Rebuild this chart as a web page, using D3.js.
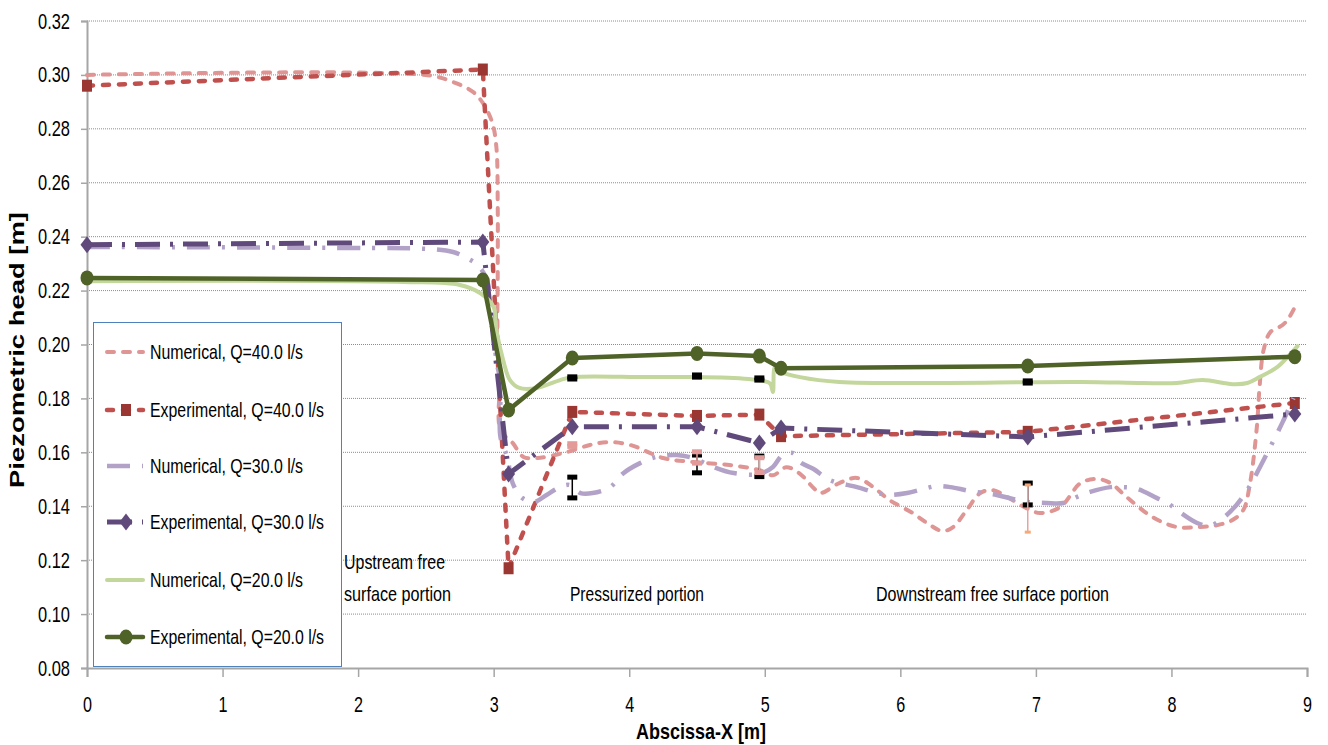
<!DOCTYPE html>
<html><head><meta charset="utf-8">
<script src="https://cdn.jsdelivr.net/npm/d3@7"></script>
<style>body{margin:0;background:#fff} svg{display:block}</style>
</head><body><svg id="c" width="1328" height="745"></svg>
<script>
// ---------------- DATA ----------------
const xTicks = [0, 1, 2, 3, 4, 5, 6, 7, 8, 9];
const yTicks = [0.08, 0.10, 0.12, 0.14, 0.16, 0.18, 0.20, 0.22, 0.24, 0.26, 0.28, 0.30, 0.32];
const seriesNames = ["Numerical, Q=40.0 l/s", "Experimental, Q=40.0 l/s", "Numerical, Q=30.0 l/s",
  "Experimental, Q=30.0 l/s", "Numerical, Q=20.0 l/s", "Experimental, Q=20.0 l/s"];
const xTitle = "Abscissa-X [m]";
const yTitle = "Piezometric head [m]";
const regionLabels = ["Upstream free", "surface portion", "Pressurized portion", "Downstream free surface portion"];

// experimental stations
const expX  = [0, 2.92, 3.11, 3.58, 4.50, 4.96, 5.12, 6.94, 8.91];
const exp40 = [0.296, 0.302, 0.117, 0.175, 0.1735, 0.174, 0.166, 0.1676, 0.1783];
const exp30 = [0.237, 0.238, 0.152, 0.1695, 0.1695, 0.1635, 0.169, 0.1657, 0.1742];
const exp20 = [0.2247, 0.2239, 0.1757, 0.1950, 0.1967, 0.1957, 0.1912, 0.1920, 0.1955];

// numerical profiles
const num40X = [0, 2.51, 2.70, 2.85, 2.92, 2.99, 3.02, 3.03, 3.03, 3.03, 3.05, 3.05, 3.14, 3.22, 3.32, 3.51, 3.71, 3.84, 4.01, 4.25,
  4.47, 4.74, 4.96, 5.06, 5.16, 5.26, 5.36, 5.41, 5.55, 5.68, 5.80, 5.92, 6.09, 6.22, 6.31, 6.39, 6.49, 6.59, 6.68, 6.79,
  6.93, 7.03, 7.18, 7.33, 7.45, 7.55, 7.67, 7.86, 8.04, 8.21, 8.34, 8.45, 8.53, 8.58, 8.63, 8.65, 8.68, 8.73, 8.82, 8.87, 8.93];
const num40Y = [0.300, 0.2999, 0.2974, 0.2936, 0.2896, 0.2822, 0.2732, 0.2510, 0.2265, 0.2017, 0.1894, 0.1683, 0.1635, 0.1583, 0.1579, 0.1597, 0.1627, 0.1638, 0.1627, 0.1579,
  0.1564, 0.1553, 0.1534, 0.1515, 0.1545, 0.1520, 0.1468, 0.1449, 0.1486, 0.1505, 0.1471, 0.1423, 0.1375, 0.1330, 0.1308, 0.1323, 0.1386, 0.1449, 0.1460, 0.1434,
  0.1393, 0.1375, 0.1397, 0.1486, 0.1501, 0.1486, 0.1434, 0.1360, 0.1323, 0.1323, 0.1330, 0.1349, 0.1386, 0.1486, 0.1694, 0.1842, 0.1980, 0.2046, 0.2072, 0.2102, 0.2158];

const num30X = [0, 1.92, 2.53, 2.70, 2.79, 2.88, 2.95, 3.02, 3.05, 3.05, 3.10, 3.14, 3.21, 3.30, 3.39, 3.49, 3.56, 3.64, 3.73, 3.86,
  3.95, 4.08, 4.20, 4.35, 4.47, 4.62, 4.77, 4.96, 5.06, 5.13, 5.21, 5.26, 5.36, 5.48, 5.68, 5.83, 5.92, 6.05, 6.17, 6.27,
  6.37, 6.51, 6.71, 6.83, 6.94, 7.08, 7.20, 7.30, 7.40, 7.55, 7.64, 7.75, 7.89, 7.97, 8.06, 8.19, 8.28, 8.38, 8.48, 8.56,
  8.63, 8.71, 8.82, 8.90];
const num30Y = [0.2362, 0.2358, 0.2354, 0.2343, 0.2324, 0.2295, 0.2239, 0.1942, 0.1857, 0.1657, 0.1583, 0.1486, 0.1431, 0.1416, 0.1442, 0.1471, 0.1479, 0.1449, 0.1449, 0.1471,
  0.1520, 0.1560, 0.1583, 0.1590, 0.1579, 0.1546, 0.1523, 0.1520, 0.1546, 0.1590, 0.1597, 0.1564, 0.1538, 0.1497, 0.1471, 0.1449, 0.1442, 0.1449, 0.1464, 0.1475,
  0.1471, 0.1457, 0.1442, 0.1427, 0.1416, 0.1412, 0.1412, 0.1434, 0.1453, 0.1471, 0.1471, 0.1464, 0.1431, 0.1412, 0.1379, 0.1338, 0.1327, 0.1356, 0.1405, 0.1460,
  0.1523, 0.1601, 0.1712, 0.1801];

const num20X = [0, 2.33, 2.75, 2.90, 3.00, 3.02, 3.07, 3.12, 3.19, 3.32, 3.49, 3.58, 4.13, 4.50, 4.77, 4.99, 5.04, 5.06, 5.075, 5.11,
  5.26, 5.55, 7.33, 7.79, 8.04, 8.23, 8.45, 8.56, 8.65, 8.78, 8.87, 8.93];
const num20Y = [0.2235, 0.2232, 0.2221, 0.2191, 0.2139, 0.2054, 0.1942, 0.1868, 0.1839, 0.1839, 0.1868, 0.1879, 0.1879, 0.1879, 0.1876, 0.1865, 0.1855, 0.1824, 0.1917, 0.1900,
  0.1879, 0.1861, 0.1861, 0.1857, 0.1857, 0.1868, 0.1853, 0.1857, 0.1879, 0.1916, 0.1961, 0.1994];

// error bars
const errX    = [3.58, 4.50, 4.96, 6.94];
const err40Lo = [0.1622, 0.1560, 0.1525, 0.1304];
const err40Hi = [0.1632, 0.1602, 0.1580, 0.1479];
const err30Lo = [0.1431, 0.1524, 0.1510, 0.1405];
const err30Hi = [0.1508, 0.1590, 0.1586, 0.1486];
const err20Lo = [0.1872, 0.1879, 0.1868, 0.1857];
const err20Hi = [0.1880, 0.1887, 0.1876, 0.1865];

// ---------------- CHART ----------------
const FONT = "'Liberation Sans Narrow','Liberation Sans',Arial,sans-serif";
const svg = d3.select("#c");
svg.append("rect").attr("width", 1328).attr("height", 745).attr("fill", "#fff");

const x = d3.scaleLinear().domain([0, 9]).range([87, 1307]);
const y = d3.scaleLinear().domain([0.08, 0.32]).range([668, 21]);

// gridlines
svg.append("g").selectAll("line").data(yTicks.slice(1)).join("line")
  .attr("x1", x(0)).attr("x2", x(9)).attr("y1", d => y(d)).attr("y2", d => y(d))
  .attr("stroke", "#8c8c8c").attr("stroke-width", 1).attr("stroke-dasharray", "1,1");

// axes
const yAxis = svg.append("g").attr("transform", `translate(${x(0)},0)`)
  .call(d3.axisLeft(y).tickValues(yTicks).tickSize(6).tickPadding(11).tickFormat(d3.format(".2f")));
const xAxis = svg.append("g").attr("transform", `translate(0,${y(0.08)})`)
  .call(d3.axisBottom(x).tickValues(xTicks).tickSize(9).tickPadding(19).tickFormat(d3.format("d")));
[yAxis, xAxis].forEach(g => {
  g.select(".domain").attr("stroke", "#a6a6a6").attr("stroke-width", 2);
  g.selectAll(".tick line").attr("stroke", "#a6a6a6").attr("stroke-width", 1.5);
  g.selectAll("text").attr("font-family", FONT).attr("font-size", 22).attr("fill", "#000");
});
yAxis.selectAll("text").attr("textLength", 32).attr("lengthAdjust", "spacingAndGlyphs");
xAxis.selectAll("text").attr("textLength", 9).attr("lengthAdjust", "spacingAndGlyphs");

// titles
svg.append("text").text(yTitle).attr("font-family", FONT).attr("font-weight", "bold").attr("font-size", 21)
  .attr("text-anchor", "middle").attr("transform", "translate(24,350) rotate(-90)")
  .attr("textLength", 276).attr("lengthAdjust", "spacingAndGlyphs");
svg.append("text").text(xTitle).attr("font-family", FONT).attr("font-weight", "bold").attr("font-size", 22)
  .attr("text-anchor", "middle").attr("x", 701).attr("y", 739)
  .attr("textLength", 130).attr("lengthAdjust", "spacingAndGlyphs");

// region annotations
const regionPos = [[344, 569, 101], [344, 601, 107], [570, 601, 134], [876, 601, 233]];
regionLabels.forEach((t, i) => {
  svg.append("text").text(t).attr("font-family", FONT).attr("font-size", 21)
    .attr("x", regionPos[i][0]).attr("y", regionPos[i][1])
    .attr("textLength", regionPos[i][2]).attr("lengthAdjust", "spacingAndGlyphs");
});

// styles
const styles = [
  {color: "#df9593", w: 4, dash: "7,9", cap: "round"},
  {color: "#c0504d", w: 4.5, dash: "6,10", cap: "round", marker: "square", mcolor: "#9b3733"},
  {color: "#b3a2c7", w: 4.5, dash: "23,12,3,12", cap: "butt"},
  {color: "#604a7b", w: 5, dash: "25,10,3,10", cap: "butt", marker: "diamond", mcolor: "#604a7b"},
  {color: "#c3d69b", w: 4, dash: null, cap: "round"},
  {color: "#4f6228", w: 4.5, dash: null, cap: "round", marker: "circle", mcolor: "#4f6228"}
];

const zip = (xs, ys) => xs.slice(0, Math.min(xs.length, ys.length)).map((v, i) => [v, ys[i]]);
const seriesData = [
  zip(num40X, num40Y), zip(expX, exp40), zip(num30X, num30Y),
  zip(expX, exp30), zip(num20X, num20Y), zip(expX, exp20)
];

const smooth = d3.line().x(d => x(d[0])).y(d => y(d[1])).curve(d3.curveCatmullRom.alpha(0.5));
const straight = d3.line().x(d => x(d[0])).y(d => y(d[1]));

function drawMarker(g, type, cx, cy, color) {
  if (type === "square") {
    g.append("rect").attr("x", cx - 5).attr("y", cy - 6).attr("width", 10).attr("height", 12).attr("fill", color);
  } else if (type === "diamond") {
    g.append("path").attr("d", `M${cx},${cy - 8.5}L${cx + 6.5},${cy}L${cx},${cy + 8.5}L${cx - 6.5},${cy}Z`).attr("fill", color);
  } else if (type === "circle") {
    g.append("ellipse").attr("cx", cx).attr("cy", cy).attr("rx", 6.5).attr("ry", 7.5).attr("fill", color);
  }
}

const plot = svg.append("g");
seriesData.forEach((data, i) => {
  const s = styles[i];
  plot.append("path").attr("d", (s.marker ? straight : smooth)(data))
    .attr("fill", "none").attr("stroke", s.color).attr("stroke-width", s.w)
    .attr("stroke-dasharray", s.dash).attr("stroke-linecap", s.cap).attr("stroke-linejoin", "round");
  if (s.marker) data.forEach(d => drawMarker(plot, s.marker, x(d[0]), y(d[1]), s.mcolor));
});

// error bars
function errorBars(lo, hi, lineColor, capColor, capW, capH, lineW) {
  const g = svg.append("g");
  errX.forEach((xv, i) => {
    const cx = x(xv);
    g.append("line").attr("x1", cx).attr("x2", cx).attr("y1", y(lo[i])).attr("y2", y(hi[i]))
      .attr("stroke", lineColor).attr("stroke-width", lineW);
    [lo[i], hi[i]].forEach(v => {
      g.append("rect").attr("x", cx - capW / 2).attr("y", y(v) - capH / 2)
        .attr("width", capW).attr("height", capH).attr("fill", typeof capColor === "function" ? capColor(i) : capColor);
    });
  });
}
errorBars(err30Lo, err30Hi, "#000", "#000", 10, 5, 1.5);
errorBars(err20Lo, err20Hi, "#000", "#000", 10, 5, 1.5);
errorBars(err40Lo, err40Hi, "#e8a3a1", i => i === errX.length - 1 ? "#f7a875" : "#e39b99", 10, 5, 1.5);
// last pink bar caps are smaller
svg.selectAll("rect").filter(function () { return d3.select(this).attr("fill") === "#f7a875"; })
  .attr("width", 6).attr("height", 3).attr("x", function () { return +d3.select(this).attr("x") + 2; })
  .attr("y", function () { return +d3.select(this).attr("y") + 1; });

// legend
const lg = svg.append("g");
lg.append("rect").attr("x", 93.5).attr("y", 322.5).attr("width", 248).attr("height", 344)
  .attr("fill", "#fff").attr("stroke", "#4f81bd").attr("stroke-width", 1);
const rowY = [352, 410, 466, 522, 580, 637];
const textW = [153, 174, 153, 174, 153, 174];
seriesNames.forEach((name, i) => {
  const s = styles[i];
  const ry = rowY[i];
  lg.append("line").attr("x1", 107).attr("x2", 143).attr("y1", ry).attr("y2", ry)
    .attr("stroke", s.color).attr("stroke-width", s.w).attr("stroke-dasharray", s.dash)
    .attr("stroke-linecap", s.cap);
  if (s.marker) drawMarker(lg, s.marker, 126, ry, s.mcolor);
  lg.append("text").text(name).attr("x", 150).attr("y", ry + 7)
    .attr("font-family", FONT).attr("font-size", 21)
    .attr("textLength", textW[i]).attr("lengthAdjust", "spacingAndGlyphs");
});
</script>
</body></html>
